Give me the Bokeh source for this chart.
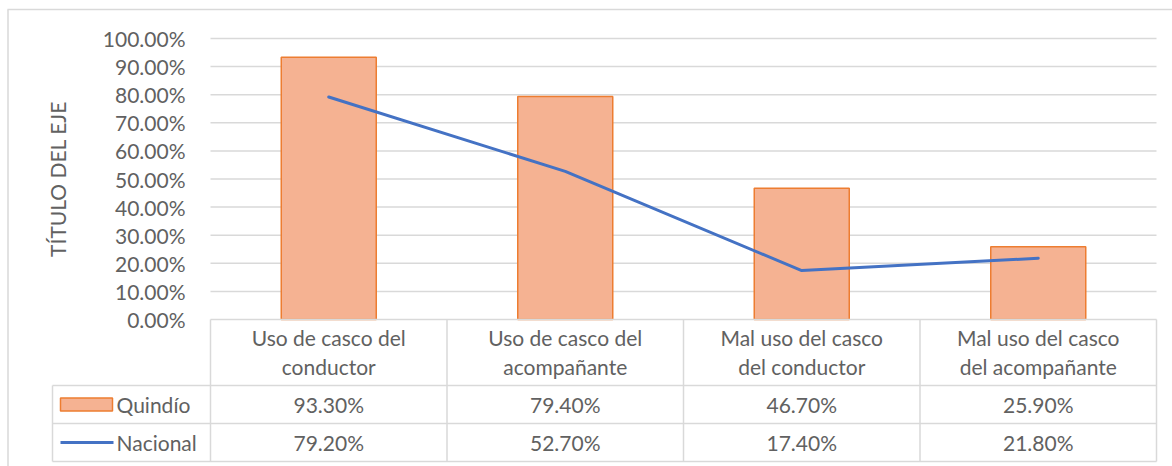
from math import pi
from bokeh.plotting import figure
from bokeh.models import Range1d
from bokeh.embed import file_html
from bokeh.resources import INLINE
from bokeh.core.properties import value

# ---------------- data ----------------
categories = ["Uso de casco del\nconductor",
              "Uso de casco del\nacompañante",
              "Mal uso del casco\ndel conductor",
              "Mal uso del casco\ndel acompañante"]
quindio = [0.933, 0.794, 0.467, 0.259]
nacional = [0.792, 0.527, 0.174, 0.218]
series_names = ["Quindío", "Nacional"]
y_ticks = [0.0, 0.1, 0.2, 0.3, 0.4, 0.5, 0.6, 0.7, 0.8, 0.9, 1.0]
axis_title = "TÍTULO DEL EJE"

# ---------------- layout (page pixels) ----------------
W, H = 1172, 466
FL, FT = 0, 0                 # figure origin on page
PL, PR = 210, 1156            # plot area left / right
P0, P100 = 319, 38            # y of 0% and 100%
CATW = (PR - PL) / len(categories)
UNIT = (P0 - P100)

def X(px):
    return 0.5 + (px - PL) / CATW

def Y(py):
    return (P0 - py) / UNIT

FONT = value("Lato")
FS = "21px"
TXT = "#616161"
GRID = "#D9D9D9"
BAR_FILL = "#F5B292"
BAR_LINE = "#ED7D31"
LINE_C = "#4472C4"

p = figure(width=W, height=H, output_backend="svg", toolbar_location=None,
           x_range=Range1d(X(FL), X(FL + W)), y_range=Range1d(Y(FT + H), Y(FT)),
           x_axis_location=None, y_axis_location=None, min_border=0)
p.outline_line_color = None
p.xgrid.visible = False
p.ygrid.visible = False
p.background_fill_color = "white"
p.border_fill_color = "white"

xs = [i + 1 for i in range(len(categories))]

# gridlines
gt = y_ticks[1:]
p.segment(x0=[X(PL)] * len(gt), x1=[X(PR)] * len(gt), y0=gt, y1=gt,
          line_color=GRID, line_width=1.5)

# tick labels
p.text(x=[X(PL)] * len(y_ticks), y=y_ticks, text=[f"{v * 100:.2f}%" for v in y_ticks],
       x_offset=-25, text_align="right", text_baseline="middle",
       text_color=TXT, text_font=FONT, text_font_size=FS)

# axis title
p.text(x=[X(57)], y=[Y((P0 + P100) / 2)], text=[axis_title], angle=pi / 2,
       text_align="center", text_baseline="middle",
       text_color=TXT, text_font=FONT, text_font_size=FS)

# bars and line
BW = 95 / CATW
p.vbar(x=xs, top=quindio, bottom=0, width=BW, fill_color=BAR_FILL,
       line_color=BAR_LINE, line_width=1.5)
p.line(x=xs, y=nacional, line_color=LINE_C, line_width=3, line_join="round", line_cap="round")

# ---------------- data table ----------------
R0, R1, R2, R3 = P0, 385, 423, 461
TL = 52
hx0 = [X(PL), X(TL), X(TL), X(TL)]
hx1 = [X(PR)] * 4
hy = [Y(R0), Y(R1), Y(R2), Y(R3)]
p.segment(x0=hx0, x1=hx1, y0=hy, y1=hy, line_color=GRID, line_width=1.5)
vx = [X(TL), X(PL)] + [x + 0.5 for x in xs]
vy0 = [Y(R1)] + [Y(R0)] * (len(vx) - 1)
vy1 = [Y(R3)] * len(vx)
p.segment(x0=vx, x1=vx, y0=vy0, y1=vy1, line_color=GRID, line_width=1.5)

line1 = [c.split("\n")[0] for c in categories]
line2 = [c.split("\n")[1] for c in categories]
p.text(x=xs, y=[Y(337)] * 4, text=line1, text_align="center", text_baseline="middle",
       text_color=TXT, text_font=FONT, text_font_size=FS)
p.text(x=xs, y=[Y(366)] * 4, text=line2, text_align="center", text_baseline="middle",
       text_color=TXT, text_font=FONT, text_font_size=FS)

r1c = (R1 + R2) / 2
r2c = (R2 + R3) / 2
p.text(x=xs, y=[Y(r1c)] * 4, text=[f"{v * 100:.2f}%" for v in quindio],
       text_align="center", text_baseline="middle",
       text_color=TXT, text_font=FONT, text_font_size=FS)
p.text(x=xs, y=[Y(r2c)] * 4, text=[f"{v * 100:.2f}%" for v in nacional],
       text_align="center", text_baseline="middle",
       text_color=TXT, text_font=FONT, text_font_size=FS)

# legend keys
p.quad(left=[X(60)], right=[X(112)], top=[Y(r1c - 6.5)], bottom=[Y(r1c + 6.5)],
       fill_color=BAR_FILL, line_color=BAR_LINE, line_width=1.5)
p.segment(x0=[X(60)], x1=[X(113)], y0=[Y(r2c)], y1=[Y(r2c)], line_color=LINE_C, line_width=3)
p.text(x=[X(116), X(116)], y=[Y(r1c), Y(r2c)], text=series_names,
       text_align="left", text_baseline="middle",
       text_color=TXT, text_font=FONT, text_font_size=FS)

# chart border (left + top)
p.segment(x0=[X(7.5), X(7)], x1=[X(7.5), X(FL + W)], y0=[Y(9), Y(9)], y1=[Y(FT + H), Y(9)],
          line_color=GRID, line_width=1.5)

open("out.html", "w").write(file_html(p, INLINE))
